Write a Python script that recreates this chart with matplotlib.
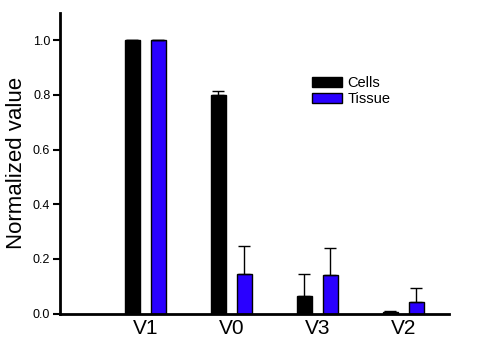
import matplotlib

matplotlib.use("Agg")
import matplotlib.pyplot as plt
import numpy as np

plt.rcParams["font.family"] = ["Liberation Sans", "DejaVu Sans"]

BLACK = "#000000"
BLUE = "#2a00ff"

regions = ["V1", "V0", "V3", "V2"]
cells = [1.0, 0.80, 0.064, 0.007]
cells_err = [0.0, 0.015, 0.080, 0.003]
tissue = [1.0, 0.144, 0.140, 0.041]
tissue_err = [0.0, 0.103, 0.099, 0.051]

fig = plt.figure(figsize=(5, 3.5), dpi=100)
ax = fig.add_axes([0.12, 0.104, 0.778, 0.859])

x = np.arange(len(regions))
w = 0.174
off = 0.151
err_kw = dict(ecolor="black", elinewidth=1, capsize=4, capthick=1)
ax.bar(x - off, cells, w, color=BLACK, edgecolor="black", linewidth=1,
       yerr=[np.zeros(len(cells)), cells_err], error_kw=err_kw, label="Cells")
ax.bar(x + off, tissue, w, color=BLUE, edgecolor="black", linewidth=1,
       yerr=[np.zeros(len(tissue)), tissue_err], error_kw=err_kw, label="Tissue")

ax.set_xlim(-0.994, 3.53)
ax.set_ylim(0, 1.10)
ax.set_yticks([0.0, 0.2, 0.4, 0.6, 0.8, 1.0])
ax.set_yticklabels(["0.0", "0.2", "0.4", "0.6", "0.8", "1.0"], fontsize=9)
ax.set_xticks(x, regions, fontsize=15)
ax.tick_params(axis="x", length=0, pad=4)
ax.tick_params(axis="y", direction="out", length=5, width=1.5, pad=2)
ax.set_ylabel("Normalized value", fontsize=16, labelpad=4)

for side in ["top", "right"]:
    ax.spines[side].set_visible(False)
for side in ["left", "bottom"]:
    ax.spines[side].set_linewidth(2)

ax.legend(loc="upper left", bbox_to_anchor=(0.648, 0.79), frameon=False, fontsize=10.5,
          handlelength=2.06, handleheight=0.65, handletextpad=0.35, labelspacing=0.15,
          borderpad=0, borderaxespad=0)

fig.savefig("out.png", dpi=100)
